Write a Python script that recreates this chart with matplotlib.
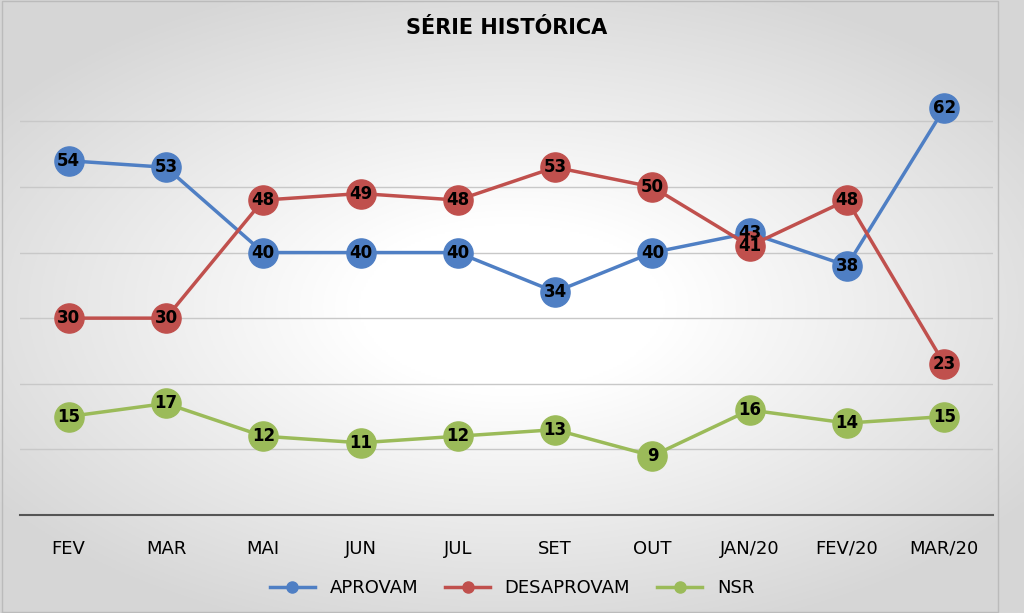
import matplotlib
matplotlib.use("Agg")
import matplotlib.pyplot as plt
import numpy as np

months = ["FEV", "MAR", "MAI", "JUN", "JUL", "SET", "OUT", "JAN/20", "FEV/20", "MAR/20"]
aprovam = [54, 53, 40, 40, 40, 34, 40, 43, 38, 62]
desaprovam = [30, 30, 48, 49, 48, 53, 50, 41, 48, 23]
nsr = [15, 17, 12, 11, 12, 13, 9, 16, 14, 15]

fig = plt.figure(figsize=(10.24, 6.13), dpi=100)
bg = fig.add_axes([0, 0, 1, 1], zorder=0)
yy, xx = np.mgrid[-1:1:300j, -1:1:500j]
r = np.sqrt((xx * 1.0) ** 2 + (yy * 1.1) ** 2)
g = np.clip(1 - 0.17 * np.clip(r - 0.3, 0, None), 0.84, 1)
bg.imshow(np.dstack([g, g, g]), aspect="auto", extent=[0, 1, 0, 1])
bg.set_xlim(0, 1); bg.set_ylim(0, 1); bg.axis("off")
bg.plot([0.002, 0.975, 0.975, 0.002, 0.002], [0.002, 0.002, 0.998, 0.998, 0.002], color="#bbbbbb", lw=1)

ax = fig.add_axes([20/1024, 0.16, 973/1024, 0.749], zorder=1)
ax.patch.set_alpha(0)
x = np.arange(len(months))
series = [(aprovam, "#4F7FC4", "APROVAM"), (desaprovam, "#C0504D", "DESAPROVAM"), (nsr, "#9BBB59", "NSR")]
for vals, c, name in series:
    ax.plot(x, vals, color=c, lw=2.5, marker="o", markersize=21, markerfacecolor=c,
            markeredgecolor=c, label=name, zorder=3)
    for xi, v in zip(x, vals):
        ax.text(xi, v, str(v), ha="center", va="center", fontsize=12, fontweight="bold",
                color="black", zorder=4)
ax.set_ylim(0, 70)
ax.set_xlim(-0.5, len(months) - 0.5)
ax.set_yticks(np.arange(10, 70, 10))
ax.yaxis.grid(True, color="#c8c8c8", lw=1)
ax.tick_params(axis="y", left=False, labelleft=False)
ax.tick_params(axis="x", length=0, labelsize=13, pad=18)
ax.set_xticks(x)
ax.set_xticklabels(months)
for s in ["top", "right", "left"]:
    ax.spines[s].set_visible(False)
ax.spines["bottom"].set_color("#555555")
ax.spines["bottom"].set_linewidth(1.5)
fig.text(0.495, 0.955, "SÉRIE HISTÓRICA", ha="center", va="center", fontsize=15, fontweight="bold")
handles = [plt.Line2D([], [], color=c, lw=2.5, marker="o", markersize=8) for _, c, _ in series]
fig.legend(handles, [n for _, _, n in series], loc="center", bbox_to_anchor=(0.5, 0.04),
           ncol=3, frameon=False, fontsize=13, handlelength=2.5, columnspacing=1.5)
fig.savefig("out.png", dpi=100)
